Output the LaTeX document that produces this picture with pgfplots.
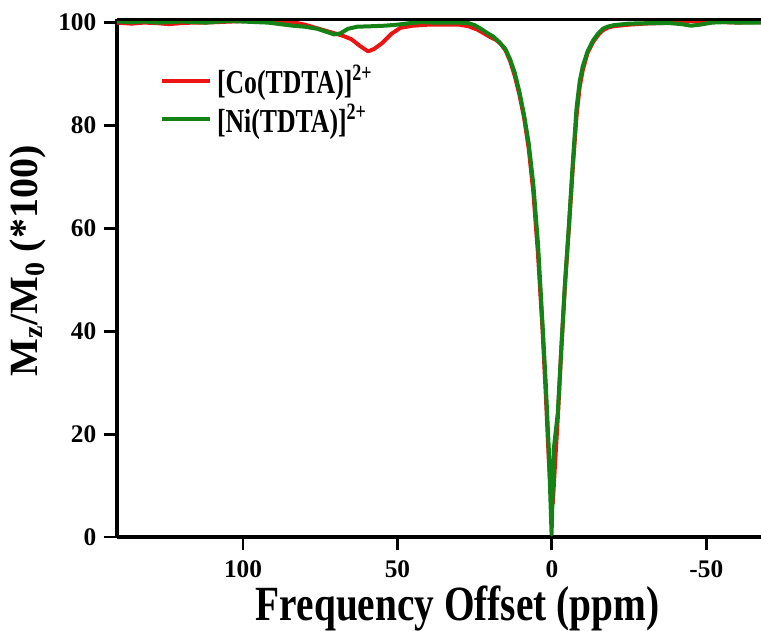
\documentclass[border=0pt]{standalone}
\usepackage{pgfplots}
\pgfplotsset{compat=1.18}
\usepackage{pgfplotstable}
\usepackage{graphicx}
\usepackage{fontspec}
\setmainfont{Liberation Serif}
\definecolor{cored}{RGB}{235,20,20}
\definecolor{nigreen}{RGB}{20,130,20}

\pgfplotstableread{
x y
140.8 100.0
136 99.8
132 100.0
128 99.9
124 99.7
120 99.9
116 100.0
112 100.0
108 100.1
104 100.2
100 100.3
96 100.4
92 100.5
88 100.4
84 100.1
80 99.6
76 98.9
72 98.2
68 97.5
65 96.8
62 95.4
59.5 94.4
57.5 94.9
55 96.0
52 97.8
49 99.0
45 99.4
40 99.6
35 99.6
30 99.6
27 99.3
24 98.6
22 97.9
20 97.2
18 96.6
16.5 95.8
15 94.6
13.5 92.5
12 89.6
10.5 86.0
9 81.5
7.5 75.5
6 67
4.5 55
3 40
2 28
1 15
0.2 7
-0.3 6.5
-1 14
-2 24
-3 36
-4.2 48.5
-5.5 60
-6.8 72
-8 82
-9 87.5
-10 90.8
-11.5 94
-13.3 96.2
-15 97.6
-16.5 98.5
-18 99.0
-20 99.3
-25 99.6
-30 99.8
-35 99.9
-40 100.0
-45 100.3
-50 100.3
-55 100.1
-60 100.0
-67.7 100.1
}\codata

\pgfplotstableread{
x y
140.8 100.2
136 100.1
132 100.2
128 100.0
124 100.1
120 100.2
116 100.1
112 100.0
108 100.2
104 100.3
100 100.2
96 100.1
92 100.0
88 99.7
84 99.4
80 99.2
76 98.8
73 98.2
70.5 97.7
68.5 97.9
66 98.8
63 99.2
58 99.3
54 99.4
50 99.6
46 99.9
42 100.1
38 100.0
34 100.0
30 100.0
27 99.9
25 99.5
23 98.8
21 98.0
19 97.3
17 96.2
15 94.8
13.5 92.8
12 90.2
10.5 86.5
9 82
7.5 76.5
6 68.5
4.5 57
3 41
2 30
1 17
0.1 0.5
-0.6 17
-1.9 24
-3 36
-4.2 49
-5.5 60.5
-6.8 73
-8 83.5
-9 88.5
-10 91.5
-11.5 94.3
-13.3 96.5
-15 97.9
-16.5 98.8
-18 99.2
-20 99.5
-25 99.8
-32 99.9
-38 99.9
-42 99.7
-45 99.4
-48 99.6
-52 100.0
-56 100.1
-60 100.0
-67.7 100.0
}\nidata

\begin{document}
\begin{tikzpicture}
\begin{axis}[
  scale only axis,
  width=483pt, height=388.5pt,
  x dir=reverse,
  xmin=-67.7, xmax=140.8,
  ymin=0, ymax=100.7,
  axis lines=left,
  axis line style={-, line width=2.6pt},
  xtick={100,50,0,-50},
  ytick={0,20,40,60,80,100},
  tick align=outside,
  major tick length=10pt,
  tick style={line width=2.2pt, black},
  ticklabel style={font=\bfseries\fontsize{19pt}{20pt}\selectfont},
  /pgf/number format/assume math mode=true,
  xticklabel style={yshift=-4pt},
  yticklabel style={xshift=-2pt},
  xlabel={\scalebox{1}[1.25]{\bfseries\fontsize{29.5pt}{32pt}\selectfont Frequency Offset (ppm)}},
  xlabel style={at={(axis description cs:0.529,-0.161)}, anchor=base},
  ylabel={\bfseries\fontsize{30pt}{32pt}\selectfont M\textsubscript{z}/M\textsubscript{0} (*100)},
  ylabel style={at={(axis description cs:-0.138,0.533)}, anchor=center, rotate=0},
  legend style={draw=none, fill=none, at={(axis description cs:0.066,0.844)}, anchor=west,
    font=\bfseries\fontsize{19.3pt}{20pt}\selectfont, row sep=2pt, inner sep=0pt},
  legend cell align=left,
  legend image code/.code={\draw[#1, line width=3pt] (0pt,0pt) -- (36pt,0pt);},
  every axis plot/.append style={line width=3pt, line join=round},
]
\addplot[cored, no markers] table[x=x,y=y] {\codata};
\addlegendentry{\hspace{2pt}\scalebox{1}[1.3]{[Co(TDTA)]\textsuperscript{2+}}}
\addplot[nigreen, no markers] table[x=x,y=y] {\nidata};
\addlegendentry{\hspace{2pt}\scalebox{1}[1.3]{[Ni(TDTA)]\textsuperscript{2+}}}
\draw[line width=2.6pt] (rel axis cs:0,1) -- (rel axis cs:1,1);
\coordinate (bl) at (rel axis cs:0,0);
\coordinate (tr) at (rel axis cs:1,1);
\end{axis}
\pgfresetboundingbox
\path ([xshift=-87.75pt,yshift=-70.5pt]bl) rectangle ([yshift=14.25pt]tr);
\end{tikzpicture}
\end{document}
